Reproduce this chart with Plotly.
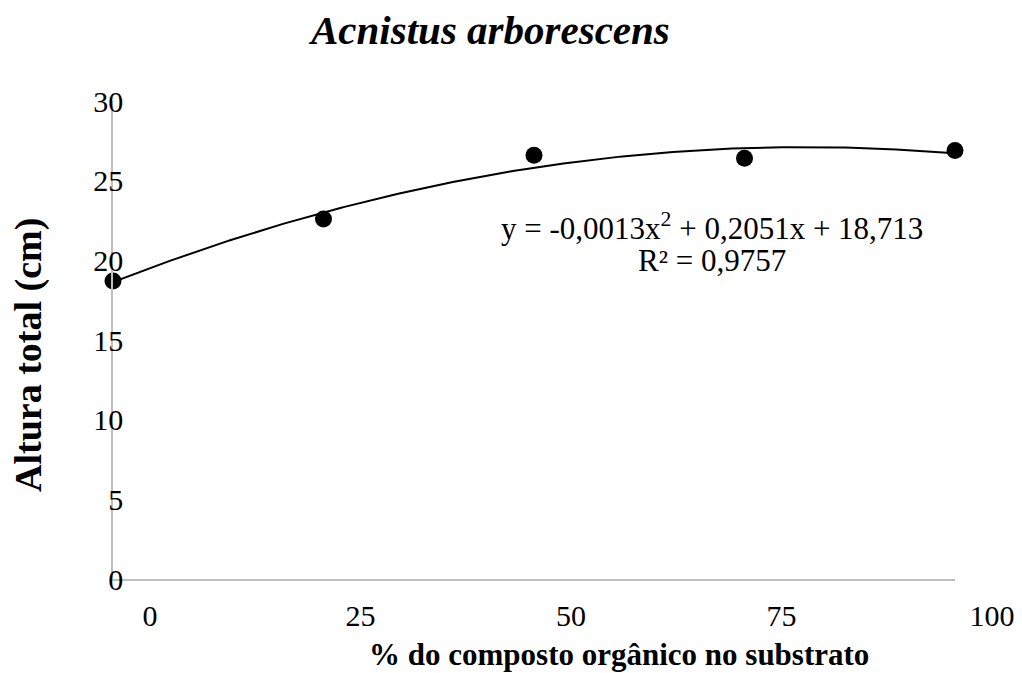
import numpy as np
import plotly.graph_objects as go

# Data
composto_pct = [0, 25, 50, 75, 100]
altura_cm = [18.7, 22.6, 26.6, 26.4, 26.9]
x_ticks = [0, 25, 50, 75, 100]
y_ticks = [0, 5, 10, 15, 20, 25, 30]

title_text = "<b><i>Acnistus arborescens</i></b>"
x_title = "<b>% do composto orgânico no substrato</b>"
y_title = "<b>Altura total (cm)</b>"
eq_line1 = "y = -0,0013x<sup>2</sup> + 0,2051x + 18,713"
eq_line2 = "R² = 0,9757"

FONT = "Liberation Serif, Times New Roman, serif"

# polynomial trendline (order 2) fitted to the data
coef = np.polyfit(composto_pct, altura_cm, 2)
xs = np.linspace(0, 100, 201)
ys = np.polyval(coef, xs)

W, H = 1022, 673
L, R, T, B = 113, 67, 101, 94
pw = W - L - R
ph = H - T - B

fig = go.Figure()
fig.add_trace(go.Scatter(x=xs, y=ys, mode="lines",
                         line=dict(color="black", width=2),
                         hoverinfo="skip", showlegend=False, cliponaxis=False))
fig.add_trace(go.Scatter(x=composto_pct, y=altura_cm, mode="markers",
                         marker=dict(color="black", size=17),
                         showlegend=False, cliponaxis=False))

def px_x(p):
    return (p - L) / pw

def px_y(p):
    return 1 - (p - T) / ph

fig.update_layout(
    width=W, height=H,
    margin=dict(l=L, r=R, t=T, b=B, autoexpand=False),
    paper_bgcolor="white", plot_bgcolor="white",
    font=dict(family=FONT, size=30, color="black"),
    showlegend=False,
    xaxis=dict(range=[0, 100], tickvals=x_ticks, ticktext=[str(v) for v in x_ticks],
               showgrid=False, zeroline=False, showline=True,
               linecolor="#bfbfbf", linewidth=1.5, ticks="",
               ticklabelshift=37, ticklabelstandoff=9,
               tickfont=dict(family=FONT, size=30, color="black")),
    yaxis=dict(range=[0, 30], tickvals=y_ticks,
               showgrid=False, zeroline=False, showline=True,
               linecolor="#bfbfbf", linewidth=1.5, ticks="",
               ticklabelstandoff=-18,
               tickfont=dict(family=FONT, size=30, color="black")),
    annotations=[
        dict(text=title_text, xref="paper", yref="paper",
             x=px_x(489), y=px_y(30), xanchor="center", yanchor="middle",
             showarrow=False, font=dict(family=FONT, size=41, color="black")),
        dict(text=x_title, xref="paper", yref="paper",
             x=px_x(619), y=px_y(654), xanchor="center", yanchor="middle",
             showarrow=False, font=dict(family=FONT, size=31, color="black")),
        dict(text=y_title, xref="paper", yref="paper",
             x=px_x(28), y=px_y(355), xanchor="center", yanchor="middle",
             textangle=-90,
             showarrow=False, font=dict(family=FONT, size=38, color="black")),
        dict(text=eq_line1, xref="paper", yref="paper",
             x=px_x(712), y=px_y(226), xanchor="center", yanchor="middle",
             showarrow=False, font=dict(family=FONT, size=31, color="black")),
        dict(text=eq_line2, xref="paper", yref="paper",
             x=px_x(712), y=px_y(260), xanchor="center", yanchor="middle",
             showarrow=False, font=dict(family=FONT, size=31, color="black")),
    ],
)

fig.write_html("out.html", config={"displayModeBar": False},
               post_script="document.body.style.margin='0';")
